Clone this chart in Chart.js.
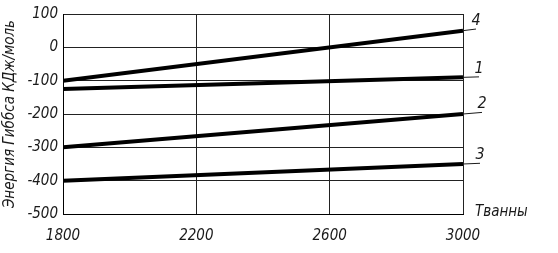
<!DOCTYPE html>
<html>
<head>
<meta charset="utf-8">
<script src="https://cdn.jsdelivr.net/npm/chart.js@4.4.0/dist/chart.umd.min.js"></script>
<style>
  html, body { margin: 0; padding: 0; background: #fff; }
  #wrap { width: 558px; height: 253px; }
</style>
</head>
<body>
<div id="wrap"><canvas id="gibbsChart"></canvas></div>
<script>
// Data
const temps = [1800, 3000];
const seriesNames = ['1', '2', '3', '4'];
const line1 = [-125, -90];
const line2 = [-300, -200];
const line3 = [-400, -350];
const line4 = [-100, 50];
const xTicks = [1800, 2200, 2600, 3000];
const yTicks = [100, 0, -100, -200, -300, -400, -500];

const FONT = "'DejaVu Sans Condensed', 'DejaVu Sans', sans-serif";
const INK = '#1a1a1a';

// how far (px) each leader runs past the plot edge
const leaderLen = [16, 19, 17, 13];

function toPoints(vals) {
    return temps.map((t, i) => ({ x: t, y: vals[i] }));
}

const leaderPlugin = {
    id: 'leaders',
    afterDatasetsDraw(chart) {
        const ctx = chart.ctx;
        const xs = chart.scales.x, ys = chart.scales.y;
        ctx.save();
        chart.data.datasets.forEach((ds, i) => {
            const p0 = ds.data[0], p1 = ds.data[ds.data.length - 1];
            const x0 = xs.getPixelForValue(p0.x), y0 = ys.getPixelForValue(p0.y);
            const x1 = xs.getPixelForValue(p1.x), y1 = ys.getPixelForValue(p1.y);
            const slope = (y1 - y0) / (x1 - x0);
            const ex = x1 + leaderLen[i];
            const ey = y1 + slope * leaderLen[i];
            ctx.strokeStyle = INK;
            ctx.lineWidth = 1;
            ctx.beginPath();
            ctx.moveTo(x1, y1);
            ctx.lineTo(ex, ey);
            ctx.stroke();
            ctx.fillStyle = INK;
            ctx.font = 'italic 16px ' + FONT;
            ctx.textAlign = 'center';
            ctx.textBaseline = 'alphabetic';
            ctx.fillText(ds.label, ex, ey - 4);
        });
        // x axis name to the right of the plot
        ctx.font = 'italic 15px ' + FONT;
        ctx.textAlign = 'left';
        ctx.textBaseline = 'middle';
        ctx.fillText('Тванны', chart.chartArea.right + 12, chart.chartArea.bottom - 2);
        ctx.restore();
    }
};

const seriesVals = [line1, line2, line3, line4];

new Chart(document.getElementById('gibbsChart'), {
    type: 'line',
    data: {
        datasets: seriesVals.map((v, i) => ({
            label: seriesNames[i],
            data: toPoints(v),
            borderColor: '#000',
            borderWidth: 4,
            pointRadius: 0,
            fill: false,
            tension: 0
        }))
    },
    options: {
        responsive: true,
        maintainAspectRatio: false,
        animation: false,
        layout: { padding: { left: 0, right: 95, top: 14, bottom: 0 } },
        plugins: {
            legend: { display: false },
            tooltip: { enabled: false }
        },
        scales: {
            x: {
                type: 'linear',
                min: 1800,
                max: 3000,
                afterBuildTicks: (s) => { s.ticks = xTicks.map(v => ({ value: v })); },
                afterFit: (s) => { s.height = 39; },
                grid: { color: '#222', lineWidth: 1, drawTicks: false },
                border: { color: '#000', width: 1 },
                ticks: {
                    padding: 13,
                    color: INK,
                    callback: (v) => String(v),
                    font: { family: FONT, size: 15, style: 'italic' }
                }
            },
            y: {
                min: -500,
                max: 100,
                afterBuildTicks: (s) => { s.ticks = yTicks.map(v => ({ value: v })); },
                afterFit: (s) => { s.width = 63; },
                grid: { color: '#222', lineWidth: 1, drawTicks: false },
                border: { color: '#000', width: 1 },
                ticks: {
                    padding: 5,
                    color: INK,
                    callback: (v) => String(v),
                    font: { family: FONT, size: 15, style: 'italic' }
                },
                title: {
                    display: true,
                    text: 'Энергия Гиббса КДж/моль',
                    color: INK,
                    padding: { top: 1, bottom: 0 },
                    font: { family: FONT, size: 15, style: 'italic' }
                }
            }
        }
    },
    plugins: [leaderPlugin]
});
</script>
</body>
</html>
